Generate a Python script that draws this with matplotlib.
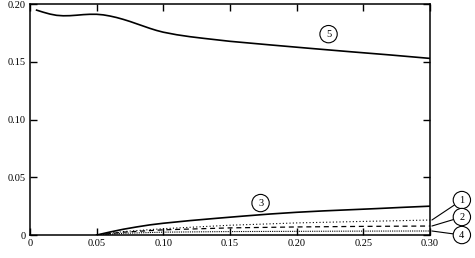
import matplotlib
matplotlib.use("Agg")
import matplotlib.pyplot as plt
import numpy as np

# curve 5 (top solid)
x5 = [0.005, 0.010, 0.015, 0.020, 0.025, 0.030, 0.035, 0.040, 0.045, 0.050, 0.055,
      0.060, 0.065, 0.070, 0.075, 0.080, 0.085, 0.090, 0.095, 0.100, 0.110, 0.120,
      0.130, 0.150, 0.180, 0.210, 0.240, 0.270, 0.300]
y5 = [0.1948, 0.1930, 0.1914, 0.1903, 0.1899, 0.1900, 0.1904, 0.1909, 0.1912, 0.1912, 0.1907,
      0.1897, 0.1884, 0.1868, 0.1850, 0.1830, 0.1810, 0.1790, 0.1772, 0.1757, 0.1735, 0.1718,
      0.1704, 0.1678, 0.1647, 0.1617, 0.1588, 0.1560, 0.1530]

# curve 3 (lower solid)
x3 = [0.05, 0.06, 0.07, 0.08, 0.09, 0.10, 0.12, 0.14, 0.16, 0.18, 0.20, 0.22, 0.24, 0.26, 0.28, 0.30]
y3 = [0.0, 0.0026, 0.0050, 0.0070, 0.0088, 0.0102, 0.0125, 0.0145, 0.0164, 0.0182, 0.0197,
      0.0209, 0.0219, 0.0229, 0.0240, 0.0250]

# curve 1 (dotted), 2 (dashed), 4 (dotted, near zero)
x1 = [0.05, 0.07, 0.10, 0.15, 0.20, 0.25, 0.30]
y1 = [0.0, 0.0030, 0.0055, 0.0085, 0.0105, 0.0118, 0.0130]
x2 = [0.05, 0.07, 0.10, 0.15, 0.20, 0.25, 0.30]
y2 = [0.0, 0.0025, 0.0045, 0.0062, 0.0070, 0.0075, 0.0078]
x4 = [0.05, 0.07, 0.10, 0.15, 0.20, 0.25, 0.30]
y4 = [0.0, 0.0015, 0.0025, 0.0030, 0.0032, 0.0034, 0.0035]

xticks = [0, 0.05, 0.10, 0.15, 0.20, 0.25, 0.30]
xlabels = ["0", "0.05", "0.10", "0.15", "0.20", "0.25", "0.30"]
yticks = [0, 0.05, 0.10, 0.15, 0.20]
ylabels = ["0", "0.05", "0.10", "0.15", "0.20"]

plt.rcParams['font.family'] = ['Liberation Serif', 'DejaVu Serif']

fig = plt.figure(figsize=(4.75, 2.58), dpi=100)
ax = fig.add_axes([0.063, 0.089, 0.842, 0.895])

ax.plot(x5, y5, color='black', lw=1.2)
ax.plot(x3, y3, color='black', lw=1.2)
ax.plot(x1, y1, color='black', lw=0.8, linestyle=(0, (1, 2)))
ax.plot(x2, y2, color='black', lw=0.9, linestyle=(0, (4, 3)))
ax.plot(x4, y4, color='black', lw=0.8, linestyle=(0, (1, 1)))

ax.set_xlim(0, 0.30)
ax.set_ylim(0, 0.20)
ax.set_xticks(xticks)
ax.set_xticklabels(xlabels)
ax.set_yticks(yticks)
ax.set_yticklabels(ylabels)
ax.tick_params(direction='in', top=True, right=True, length=5, width=1,
               labelsize=7.5, pad=3)
for s in ax.spines.values():
    s.set_linewidth(1.1)

circ = dict(boxstyle='circle,pad=0.4', fc='white', ec='black', lw=0.8)
ax.text(0.224, 0.174, "5", ha='center', va='center', fontsize=7.5, bbox=circ)
ax.text(0.173, 0.0277, "3", ha='center', va='center', fontsize=7.5, bbox=circ)

# side labels with leader lines
for lab, yend, ylab in [("1", y1[-1], 0.0303), ("2", y2[-1], 0.0156), ("4", y4[-1], 0.0)]:
    ax.annotate(lab, xy=(0.3015, yend), xytext=(0.324, ylab),
                ha='center', va='center', fontsize=7.5, bbox=circ,
                annotation_clip=False,
                arrowprops=dict(arrowstyle='-', lw=0.8, color='black',
                                shrinkA=0, shrinkB=0))

fig.savefig("out.png", dpi=100)
